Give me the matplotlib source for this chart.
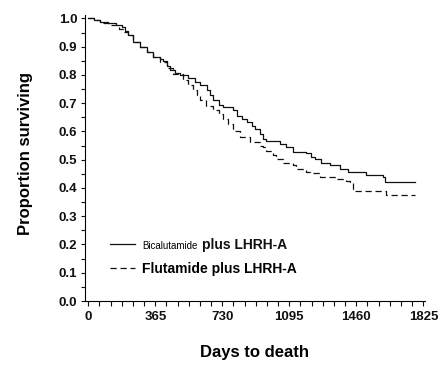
import numpy as np
import matplotlib
matplotlib.use("Agg")
import matplotlib.pyplot as plt
from matplotlib.lines import Line2D

# Kaplan-Meier style curves
bica_days = [0, 30, 65, 110, 150, 183, 200, 215, 246, 280, 318, 355, 390, 409,
             430, 445, 475, 500, 545, 580, 608, 645, 665, 681, 710, 735, 790,
             808, 835, 862, 890, 907, 935, 952, 970, 1043, 1079, 1115, 1188,
             1215, 1233, 1270, 1315, 1369, 1414, 1514, 1605, 1614, 1777]
bica_surv = [1.0, 0.995, 0.987, 0.983, 0.978, 0.97, 0.955, 0.94, 0.916, 0.898,
             0.88, 0.864, 0.858, 0.85, 0.83, 0.816, 0.806, 0.80, 0.79, 0.775,
             0.763, 0.745, 0.728, 0.71, 0.695, 0.686, 0.675, 0.656, 0.645,
             0.634, 0.62, 0.61, 0.592, 0.574, 0.565, 0.557, 0.546, 0.528,
             0.522, 0.51, 0.503, 0.488, 0.481, 0.468, 0.457, 0.446, 0.44,
             0.42, 0.42]

flut_days = [0, 30, 65, 120, 165, 192, 215, 246, 280, 318, 355, 391, 427, 463,
             518, 545, 572, 590, 608, 640, 681, 710, 735, 760, 790, 826, 880,
             935, 952, 970, 1006, 1025, 1061, 1115, 1133, 1188, 1206, 1260,
             1350, 1405, 1424, 1442, 1451, 1620, 1777]
flut_surv = [1.0, 0.993, 0.985, 0.975, 0.963, 0.952, 0.94, 0.916, 0.898, 0.88,
             0.864, 0.847, 0.823, 0.805, 0.781, 0.765, 0.745, 0.728, 0.71,
             0.69, 0.675, 0.66, 0.645, 0.625, 0.603, 0.58, 0.562, 0.55, 0.544,
             0.532, 0.515, 0.503, 0.489, 0.48, 0.468, 0.455, 0.452, 0.44,
             0.433, 0.425, 0.42, 0.397, 0.389, 0.375, 0.375]

x_ticks = [0, 365, 730, 1095, 1460, 1825]
y_ticks = [0.0, 0.1, 0.2, 0.3, 0.4, 0.5, 0.6, 0.7, 0.8, 0.9, 1.0]

INK = "#111111"

plt.rcParams["font.family"] = ["Liberation Sans", "DejaVu Sans"]

fig = plt.figure(figsize=(4.41, 3.67), dpi=100)
ax = fig.add_axes([0.1927, 0.1798, 0.771, 0.7793])

ax.step(bica_days, bica_surv, where="post", color=INK, lw=0.9)
ax.step(flut_days, flut_surv, where="post", color=INK, lw=0.9, dashes=(5, 3))

ax.set_xlim(-18, 1834)
ax.set_ylim(0, 1.012)
ax.spines["top"].set_visible(False)
ax.spines["right"].set_visible(False)
for s in ("left", "bottom"):
    ax.spines[s].set_linewidth(0.8)

ax.set_xticks(x_ticks)
ax.set_xticks(np.linspace(0, 1825, 31), minor=True)
ax.set_yticks(y_ticks)
ax.set_yticks(np.arange(0, 1.0001, 0.05), minor=True)
ax.set_yticklabels([f"{v:.1f}" for v in y_ticks])
ax.tick_params(axis="both", which="both", direction="out", width=0.8,
               colors=INK)
ax.tick_params(axis="x", which="both", length=3.6, pad=3.5)
ax.tick_params(axis="y", which="both", length=3.0, pad=2.6)
for lab in ax.get_xticklabels() + ax.get_yticklabels():
    lab.set_fontweight("bold")
    lab.set_fontsize(9.5)

ax.set_xlabel("Days to death", fontsize=12, fontweight="bold", labelpad=16)
ax.set_ylabel("Proportion surviving", fontsize=12, fontweight="bold")
ax.yaxis.set_label_coords(-0.152, 0.517)

handles = [Line2D([], [], color=INK, lw=0.9),
           Line2D([], [], color=INK, lw=0.9, dashes=(5, 3))]
leg = ax.legend(handles, ["Bicalutamide", "Flutamide plus LHRH-A"],
                loc="upper left", bbox_to_anchor=(0.0735, 0.215),
                frameon=False, prop={"weight": "bold", "size": 10},
                handlelength=1.8, handletextpad=0.5, labelspacing=0.8,
                borderpad=0, borderaxespad=0)
t0 = leg.get_texts()[0]
t0.set_fontsize(7)
t0.set_fontweight("normal")

# the first label mixes a small plain word with bold text: place the bold
# part right after the small word once the legend has been laid out
fig.canvas.draw()
bb = t0.get_window_extent()
fig.text(bb.x1 + 5, bb.y0 + 2, "plus LHRH-A", transform=None,
         va="baseline", ha="left", fontsize=10, fontweight="bold", color=INK)

fig.savefig("out.png", dpi=100)
